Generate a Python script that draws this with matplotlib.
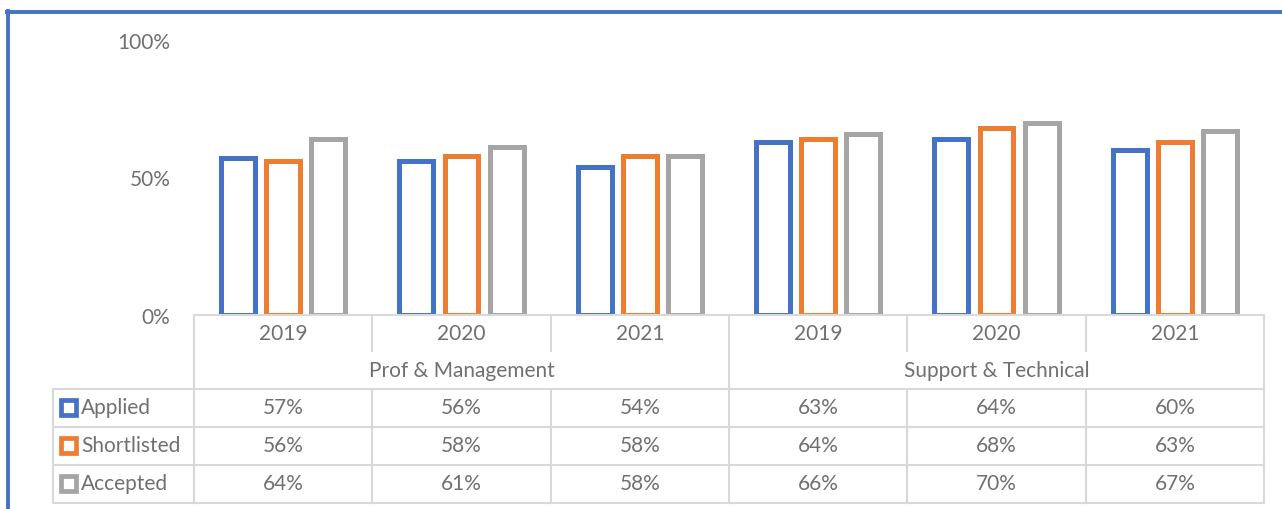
import numpy as np
import matplotlib.pyplot as plt
from matplotlib.lines import Line2D
from matplotlib.patches import Rectangle

plt.rcParams['font.family'] = ['Lato', 'DejaVu Sans']

# data
years = ['2019', '2020', '2021', '2019', '2020', '2021']
groups = ['Prof & Management', 'Support & Technical']
series = ['Applied', 'Shortlisted', 'Accepted']
applied = [57, 56, 54, 63, 64, 60]
shortlisted = [56, 58, 58, 64, 68, 63]
accepted = [64, 61, 58, 66, 70, 67]
colors = ['#4472C4', '#ED7D31', '#A5A5A5']
txt = '#707070'
grid = '#d9d9d9'

W, H = 1282, 510
fig = plt.figure(figsize=(W / 100, H / 100), dpi=100)

def fx(x):
    return x / W

def fy(y):
    return 1 - y / H

# plot area in pixels
x0, x1 = 194, 1264
y0, y100 = 316, 41
ax = fig.add_axes([fx(x0), fy(y0), fx(x1 - x0), (y0 - y100) / H])
ax.set_xlim(0, 6)
ax.set_ylim(0, 100)

xs = np.arange(6) + 0.5
off = 0.253
bw = 0.19
for i, vals in enumerate([applied, shortlisted, accepted]):
    ax.bar(xs + (i - 1) * off, vals, width=bw, facecolor='white',
           edgecolor=colors[i], linewidth=3.6, zorder=3)

ax.set_yticks([0, 50, 100])
ax.set_yticklabels(['0%', '50%', '100%'])
ax.tick_params(axis='y', length=0, pad=17, labelsize=15, labelcolor=txt)
ax.set_xticks([])
for s in ax.spines.values():
    s.set_visible(False)

def hline(y, xa, xb):
    fig.add_artist(Line2D([fx(xa), fx(xb)], [fy(y), fy(y)], color=grid, lw=1.5))

def vline(x, ya, yb):
    fig.add_artist(Line2D([fx(x), fx(x)], [fy(ya), fy(yb)], color=grid, lw=1.5))

# data table
cols = [x0 + (x1 - x0) * k / 6 for k in range(7)]
hline(y0, x0, x1)
for y in [390, 428, 466, 504]:
    hline(y, 53, x1)
for k, cx in enumerate(cols):
    if k in (0, 3, 6):
        vline(cx, y0, 504)
    else:
        vline(cx, y0, 352)
        vline(cx, 390, 504)
vline(53, 390, 504)

fs = 15
for k in range(6):
    fig.text(fx((cols[k] + cols[k + 1]) / 2), fy(334), years[k], ha='center',
             va='center', color=txt, fontsize=fs)
for g in range(2):
    fig.text(fx((cols[3 * g] + cols[3 * g + 3]) / 2), fy(371), groups[g],
             ha='center', va='center', color=txt, fontsize=fs)

rows_y = [408, 446, 484]
for r, vals in enumerate([applied, shortlisted, accepted]):
    fig.add_artist(Rectangle((fx(61), fy(rows_y[r] + 8)), fx(15), 15 / H,
                             facecolor='white', edgecolor=colors[r], lw=3.4))
    fig.text(fx(81), fy(rows_y[r]), series[r], ha='left', va='center',
             color=txt, fontsize=fs)
    for k in range(6):
        fig.text(fx((cols[k] + cols[k + 1]) / 2), fy(rows_y[r]), f'{vals[k]}%',
                 ha='center', va='center', color=txt, fontsize=fs)

# outer frame (blue)
fig.add_artist(Line2D([fx(8), fx(8)], [fy(12), 0], color='#4472C4', lw=2.8))
fig.add_artist(Line2D([fx(6.5), 1], [fy(13), fy(13)], color='#4472C4', lw=2.8))

fig.savefig('out.png', dpi=100)
